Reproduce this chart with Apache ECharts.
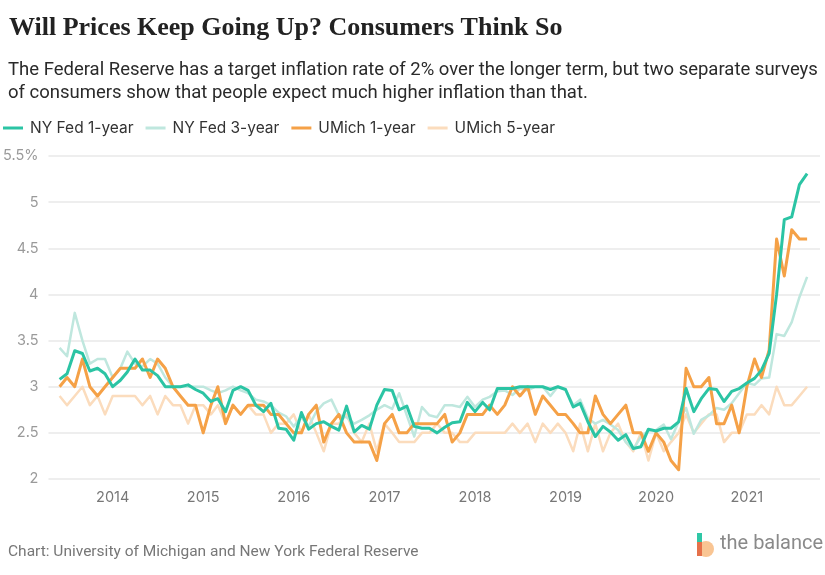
<!DOCTYPE html>
<html><head><meta charset="utf-8">
<script src="https://cdn.jsdelivr.net/npm/echarts@6/dist/echarts.min.js"></script>
<style>html,body{margin:0;padding:0;background:#fff}#c{width:825px;height:575px}</style>
</head><body><div id="c"></div>
<script>
// Monthly data, June 2013 – September 2021
const startYear = 2013, startMonth = 6;
const seriesNames = ['NY Fed 1-year', 'NY Fed 3-year', 'UMich 1-year', 'UMich 5-year'];
const yTicks = [2, 2.5, 3, 3.5, 4, 4.5, 5, 5.5];

const nyFed1 = [
  3.08, 3.14, 3.39, 3.36, 3.17, 3.2, 3.14,
  3.0, 3.07, 3.16, 3.3, 3.18, 3.18, 3.12, 3.0, 3.0, 3.0, 3.02, 2.97,
  2.93, 2.84, 2.87, 2.73, 2.96, 3.0, 2.96, 2.8, 2.73, 2.82, 2.55, 2.54,
  2.42, 2.72, 2.54, 2.6, 2.62, 2.57, 2.53, 2.79, 2.51, 2.58, 2.54, 2.8,
  2.97, 2.96, 2.75, 2.79, 2.57, 2.55, 2.55, 2.5, 2.56, 2.61, 2.62, 2.83,
  2.73, 2.83, 2.75, 2.98, 2.98, 2.98, 3.0, 3.0, 3.0, 3.0, 2.97, 3.0,
  2.97, 2.78, 2.82, 2.62, 2.46, 2.57, 2.51, 2.42, 2.48, 2.33, 2.35, 2.54,
  2.52, 2.55, 2.55, 2.62, 2.98, 2.73, 2.87, 2.98, 2.97, 2.84, 2.95, 2.98,
  3.04, 3.09, 3.18, 3.36, 4.0, 4.81, 4.84, 5.19, 5.31
];
const nyFed3 = [
  3.42, 3.33, 3.8, 3.5, 3.25, 3.3, 3.3,
  3.1, 3.2, 3.38, 3.25, 3.22, 3.3, 3.25, 3.1, 3.0, 3.0, 3.0, 3.0,
  3.0, 2.96, 2.93, 2.96, 3.0, 2.96, 2.93, 2.86, 2.84, 2.8, 2.72, 2.68,
  2.57, 2.67, 2.57, 2.73, 2.82, 2.86, 2.69, 2.67, 2.6, 2.64, 2.69, 2.75,
  2.8, 2.76, 2.93, 2.69, 2.46, 2.78, 2.69, 2.67, 2.8, 2.8, 2.78, 2.89,
  2.78, 2.86, 2.89, 2.95, 2.96, 2.91, 2.98, 2.96, 3.0, 3.0, 2.9, 3.0,
  2.97, 2.8, 2.86, 2.66, 2.6, 2.64, 2.59, 2.53, 2.4, 2.32, 2.46, 2.52,
  2.53, 2.59, 2.43, 2.62, 2.77, 2.49, 2.64, 2.69, 2.77, 2.75, 2.82, 2.93,
  3.04, 3.02, 3.09, 3.1, 3.57, 3.55, 3.7, 3.97, 4.19
];
const umich1 = [
  3.0, 3.1, 3.0, 3.3, 3.0, 2.9, 3.0,
  3.1, 3.2, 3.2, 3.2, 3.3, 3.1, 3.3, 3.2, 3.0, 2.9, 2.8, 2.8,
  2.5, 2.8, 3.0, 2.6, 2.8, 2.7, 2.8, 2.8, 2.8, 2.7, 2.7, 2.6,
  2.5, 2.5, 2.7, 2.8, 2.4, 2.6, 2.7, 2.5, 2.4, 2.4, 2.4, 2.2,
  2.6, 2.7, 2.5, 2.5, 2.6, 2.6, 2.6, 2.6, 2.7, 2.4, 2.5, 2.7,
  2.7, 2.7, 2.8, 2.7, 2.8, 3.0, 2.9, 3.0, 2.7, 2.9, 2.8, 2.7,
  2.7, 2.6, 2.5, 2.5, 2.9, 2.7, 2.6, 2.7, 2.8, 2.5, 2.5, 2.3,
  2.5, 2.4, 2.2, 2.1, 3.2, 3.0, 3.0, 3.1, 2.6, 2.6, 2.8, 2.5,
  3.0, 3.3, 3.1, 3.4, 4.6, 4.2, 4.7, 4.6, 4.6
];
const umich5 = [
  2.9, 2.8, 2.9, 3.0, 2.8, 2.9, 2.7,
  2.9, 2.9, 2.9, 2.9, 2.8, 2.9, 2.7, 2.9, 2.8, 2.8, 2.6, 2.8,
  2.8, 2.7, 2.8, 2.6, 2.8, 2.7, 2.8, 2.7, 2.7, 2.5, 2.6, 2.6,
  2.7, 2.5, 2.7, 2.5, 2.3, 2.6, 2.6, 2.7, 2.5, 2.4, 2.6, 2.3,
  2.6, 2.5, 2.4, 2.4, 2.4, 2.5, 2.5, 2.6, 2.5, 2.5, 2.4, 2.4,
  2.5, 2.5, 2.5, 2.5, 2.5, 2.6, 2.5, 2.6, 2.4, 2.6, 2.5, 2.6,
  2.5, 2.3, 2.6, 2.3, 2.6, 2.3, 2.5, 2.6, 2.4, 2.3, 2.5, 2.2,
  2.5, 2.3, 2.4, 2.5, 2.7, 2.5, 2.6, 2.7, 2.7, 2.4, 2.5, 2.5,
  2.7, 2.7, 2.8, 2.7, 3.0, 2.8, 2.8, 2.9, 3.0
];

const months = nyFed1.map((_, i) => {
  const t = startMonth - 1 + i;
  const y = startYear + Math.floor(t / 12);
  const m = (t % 12) + 1;
  return y + '-' + String(m).padStart(2, '0') + '-01';
});
const pair = arr => arr.map((v, i) => [months[i], v]);

const colors = ['#2bc4a4', '#bfe7de', '#f5a147', '#fbdcbd'];
const widths = [3, 2.5, 3, 2.5];
const zs = [4, 2, 3, 1];
const data = [nyFed1, nyFed3, umich1, umich5];

const chart = echarts.init(document.getElementById('c'), null, {renderer: 'canvas'});
chart.setOption({
  animation: false,
  backgroundColor: '#fff',
  title: [
    { text: 'Will Prices Keep Going Up? Consumers Think So', left: 4, top: 10,
      textStyle: { fontFamily: 'Liberation Serif', fontWeight: 'bold', fontSize: 26, color: '#222' } },
    { text: 'The Federal Reserve has a target inflation rate of 2% over the longer term, but two separate surveys\nof consumers show that people expect much higher inflation than that.',
      left: 3, top: 54,
      textStyle: { fontFamily: 'Roboto', fontWeight: 'normal', fontSize: 18.5, lineHeight: 23, color: '#2a2a2a' } },
    { text: 'Chart: University of Michigan and New York Federal Reserve', left: 3, top: 539,
      textStyle: { fontFamily: 'Roboto', fontWeight: 'normal', fontSize: 15.5, color: '#777' } }
  ],
  legend: {
    left: 3, top: 120, padding: 0, itemGap: 12, itemWidth: 20, itemHeight: 3, icon: 'rect',
    data: seriesNames,
    textStyle: { fontFamily: 'Inter', fontSize: 15.5, color: '#333', padding: [0, 0, 0, 2] }
  },
  grid: { left: 47, right: 5, top: 156, bottom: 96, containLabel: false },
  xAxis: {
    type: 'time',
    min: '2013-04-17', max: '2021-10-23',
    minInterval: 365 * 864e5, maxInterval: 366 * 864e5,
    axisLine: { show: false }, axisTick: { show: false }, splitLine: { show: false },
    axisLabel: {
      margin: 11, color: '#777', fontFamily: 'Inter', fontSize: 14.5,
      formatter: v => { const d = new Date(v); return (d.getMonth() === 0 && d.getDate() === 1) ? String(d.getFullYear()) : ''; }
    }
  },
  yAxis: {
    type: 'value', min: yTicks[0], max: yTicks[yTicks.length - 1], interval: 0.5,
    axisLine: { show: false }, axisTick: { show: false },
    splitLine: { lineStyle: { color: '#e8e8e8', width: 1.5 } },
    axisLabel: {
      margin: 10, color: '#9a9a9a', fontFamily: 'Inter', fontSize: 14.5,
      formatter: v => (v === yTicks[yTicks.length - 1] ? v + '%' : String(v))
    }
  },
  series: seriesNames.map((n, k) => ({
    name: n, type: 'line', data: pair(data[k]), showSymbol: false, symbol: 'none',
    z: zs[k], color: colors[k],
    lineStyle: { color: colors[k], width: widths[k], join: 'round' }
  })),
  graphic: [
    { type: 'circle', shape: { cx: 706, cy: 549, r: 8 }, style: { fill: '#f9c593' } },
    { type: 'rect', shape: { x: 697, y: 533, width: 5, height: 23 }, style: { fill: '#2fc7a6' } },
    { type: 'rect', shape: { x: 697, y: 542, width: 5, height: 14 }, style: { fill: '#e5714a' } },
    { type: 'text', left: 720, top: 534,
      style: { text: 'the balance', fontFamily: 'Roboto', fontSize: 20, fill: '#8a8a8a' } }
  ]
});
</script></body></html>
